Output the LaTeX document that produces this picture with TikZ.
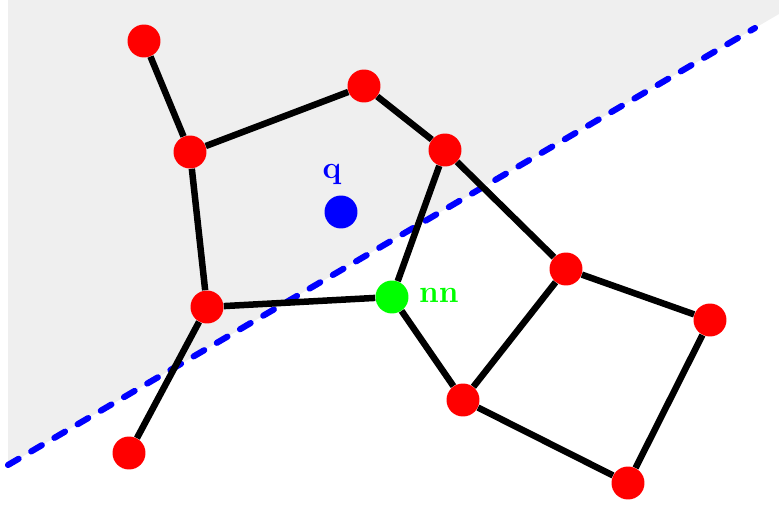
\documentclass[tikz,border=0pt]{standalone}
\usepackage{tikz}
\usetikzlibrary{positioning}
\usepackage{xcolor}
\definecolor{halfgray}{RGB}{239, 239, 239}
\definecolor{ptred}{RGB}{255, 0, 0}
\definecolor{qblue}{RGB}{0, 0, 255}
\definecolor{nngreen}{RGB}{0, 255, 0}

\tikzset{
  vert/.style={circle, fill=ptred, minimum size=0.66cm, inner sep=0pt},
  edge/.style={line width=3.7pt},
  lbl/.style={font=\fontsize{18}{21}\selectfont\bfseries}
}

\begin{document}
\begin{tikzpicture}[x=0.02cm, y=-0.02cm]
        \useasboundingbox (0, 0) rectangle (779, 510);

        % ---- HALF-PLANE ----
        \fill[halfgray] (8, 0) -- (779, 0) -- (779, 14) -- (8, 465) -- cycle;
        \coordinate (hl) at (8, 465);
        \coordinate (hr) at (755, 28);
        \draw[qblue, line width=3.5pt, line cap=round, dash pattern=on 7pt off 8.3pt] (hl) -- (hr);

        % ---- VERTICES ----
        \node[vert] (a) at (144, 41) {};
        \node[vert] (b) at (190, 152) {};
        \node[vert] (c) at (364, 86) {};
        \node[vert] (d) at (445, 150) {};
        \node[vert] (e) at (566, 269) {};
        \node[vert] (f) at (710, 320) {};
        \node[vert] (g) at (628, 483) {};
        \node[vert] (h) at (463, 400) {};
        \node[vert] (i) at (207, 307) {};
        \node[vert] (j) at (129, 453) {};
        \node[vert, fill=nngreen] (nn) at (392, 297) {};

        % ---- EDGES ----
        \draw[edge] (a) -- (b);
        \draw[edge] (b) -- (c);
        \draw[edge] (c) -- (d);
        \draw[edge] (b) -- (i);
        \draw[edge] (i) -- (j);
        \draw[edge] (i) -- (nn);
        \draw[edge] (d) -- (nn);
        \draw[edge] (d) -- (e);
        \draw[edge] (e) -- (h);
        \draw[edge] (e) -- (f);
        \draw[edge] (f) -- (g);
        \draw[edge] (g) -- (h);
        \draw[edge] (h) -- (nn);

        % ---- QUERY ----
        \node[circle, fill=qblue, minimum size=0.66cm, inner sep=0pt] (q) at (341, 212) {};
        \node[lbl, text=qblue] (qlbl) at (332, 174) {q};
        \node[lbl, text=nngreen, anchor=west] (nnlbl) at (413, 295) {nn};
      \end{tikzpicture}
\end{document}
